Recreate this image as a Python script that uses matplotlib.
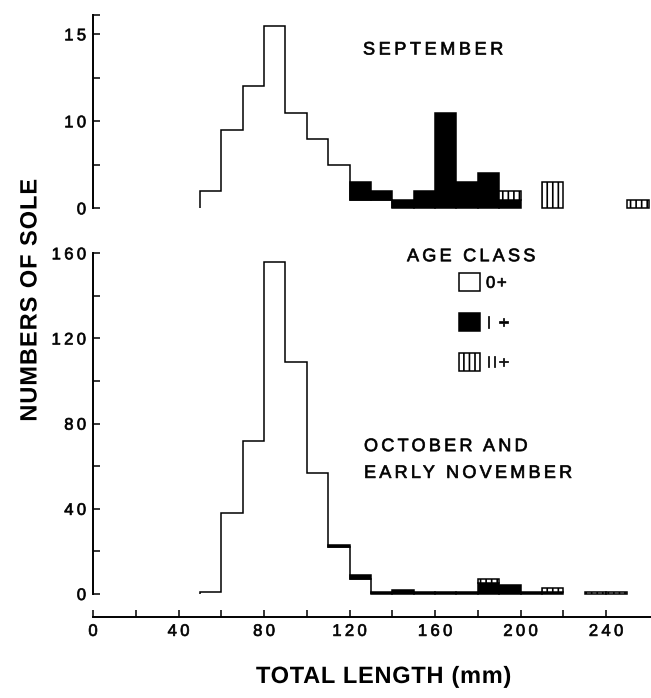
import matplotlib.pyplot as plt
import numpy as np
from matplotlib import patheffects
from matplotlib.path import Path

plt.rcParams['font.family'] = ['Liberation Sans', 'DejaVu Sans']
plt.rcParams['hatch.linewidth'] = 1.2

# 10 mm length classes (left edge of each class), 50 - 250 mm
length_bins = np.arange(50, 260, 10)

# September sample: numbers per length class for each age class
sep_age0 = [1, 4.5, 7, 10.5, 5.5, 4, 2.5, 0.5, 0.5, 0, 0, 0, 0, 0, 0, 0, 0, 0, 0, 0, 0]
sep_age1 = [0, 0, 0, 0, 0, 0, 0, 1, 0.5, 0.5, 1, 5.5, 1.5, 2, 0.5, 0, 0, 0, 0, 0, 0]
sep_age2 = [0, 0, 0, 0, 0, 0, 0, 0, 0, 0, 0, 0, 0, 0, 0.5, 0, 1.5, 0, 0, 0, 0.5]

# October and early November sample
oct_age0 = [1, 38, 72, 156, 109, 57, 22, 7, 0, 0, 0, 0, 0, 0, 0, 0, 0, 0, 0, 0, 0]
oct_age1 = [0, 0, 0, 0, 0, 0, 1, 2, 1, 2, 1, 1, 1, 5, 4, 1, 1, 0, 0, 0, 0]
oct_age2 = [0, 0, 0, 0, 0, 0, 0, 0, 0, 0, 0, 0, 0, 2, 0, 0, 2, 0, 1, 1, 0]

age_labels = ['0+', 'I +', 'II+']

# tick labels as printed on the original figure
sep_yticks = [0, 5, 10]
sep_yticklabels = ['0', '10', '15']
oct_yticks = [0, 40, 80, 120, 160]
x_ticks = [0, 40, 80, 120, 160, 200, 240]

LW = 1.1


class Tracking(patheffects.AbstractPathEffect):
    """Letter-spacing: glyph i is pushed along by i*extra (in em), word gaps
    get one step more. anchor 0 keeps the first glyph in place, 1 the last,
    0.5 the middle. weight > 0 thickens the strokes (points)."""

    def __init__(self, extra=0.2, anchor=0.0, weight=0.0):
        super().__init__()
        self.extra = extra
        self.anchor = anchor
        self.weight = weight

    def draw_path(self, renderer, gc, tpath, affine, rgbFace=None):
        codes = tpath.codes
        if codes is None or len(codes) == 0:
            renderer.draw_path(gc, tpath, affine, rgbFace)
            return
        verts = tpath.vertices.copy()
        starts = sorted(set([0] + list(np.nonzero(codes == Path.MOVETO)[0])))
        starts.append(len(codes))
        ids = np.zeros(len(verts))
        glyph, box = -1, None
        for a, b in zip(starts[:-1], starts[1:]):
            keep = codes[a:b] != Path.CLOSEPOLY
            if not keep.any():
                ids[a:b] = max(glyph, 0)
                continue
            xs = verts[a:b, 0][keep]
            x0, x1 = xs.min(), xs.max()
            # inner contours (holes of O, B, 0 ...) stay with their glyph
            same = box is not None and (
                (x0 >= box[0] - 1 and x1 <= box[1] + 1) or
                (x0 <= box[0] + 1 and x1 >= box[1] - 1))
            if same:
                box = [min(box[0], x0), max(box[1], x1)]
            else:
                if box is not None and x0 - box[1] > 22:
                    glyph += 1  # a space between words
                glyph += 1
                box = [x0, x1]
            ids[a:b] = glyph
        # text paths are laid out at 100 units per em
        verts[:, 0] += (ids - self.anchor * glyph) * self.extra * 100
        gc0 = renderer.new_gc()
        gc0.copy_properties(gc)
        if self.weight > 0:
            gc0.set_linewidth(self.weight)
            gc0.set_foreground(rgbFace)
            gc0.set_joinstyle('round')
        renderer.draw_path(gc0, Path(verts, codes), affine, rgbFace)
        gc0.restore()


def draw_panel(ax, age0, age1, age2):
    age0 = np.asarray(age0, float)
    age1 = np.asarray(age1, float)
    age2 = np.asarray(age2, float)
    edges = np.append(length_bins, length_bins[-1] + 10)

    # 0+ fish as one outlined step histogram
    nz = np.nonzero(age0)[0]
    lo, hi = nz[0], nz[-1] + 1
    h0 = ax.stairs(age0[lo:hi], edges[lo:hi + 1], fill=True,
                   facecolor='white', edgecolor='black', linewidth=LW,
                   clip_on=False)

    m1 = age1 > 0
    b1 = ax.bar(length_bins[m1], age1[m1], width=10, bottom=age0[m1],
                align='edge', color='black', edgecolor='black',
                linewidth=LW, clip_on=False)
    m2 = age2 > 0
    b2 = ax.bar(length_bins[m2], age2[m2], width=10,
                bottom=(age0 + age1)[m2], align='edge', facecolor='white',
                edgecolor='black', hatch='|||', linewidth=LW, clip_on=False)
    return h0, b1, b2


fig = plt.figure(figsize=(6.51, 6.98), dpi=100)
W, H = 651, 698
left = 93 / W

# top panel: September
ax1 = fig.add_axes([left, 1 - 208.3 / H, 1 - left, (208.3 - 15) / H])
draw_panel(ax1, sep_age0, sep_age1, sep_age2)
sep_top = (208.3 - 15) / 17.4
ax1.set_xlim(0, 261)
ax1.set_ylim(0, sep_top)
ax1.set_yticks(sep_yticks)
ax1.set_yticklabels(sep_yticklabels)
ax1.set_yticks([2.5, 7.5, sep_top], minor=True)
ax1.set_xticks([])
for s in ['top', 'right', 'bottom']:
    ax1.spines[s].set_visible(False)

# bottom panel: October and early November
ax2 = fig.add_axes([left, 1 - 594 / H, 1 - left, (594 - 253.3) / H])
h0, b1, b2 = draw_panel(ax2, oct_age0, oct_age1, oct_age2)
ax2.set_xlim(0, 261)
ax2.set_ylim(0, 160)
ax2.set_yticks(oct_yticks)
ax2.set_yticks([20, 60, 100, 140], minor=True)
ax2.set_xticks(x_ticks)
ax2.set_xticks([20, 60, 100, 140, 180, 220], minor=True)
for s in ['top', 'right']:
    ax2.spines[s].set_visible(False)
ax2.spines['bottom'].set_position(('outward', 16.5))

for ax in (ax1, ax2):
    ax.patch.set_visible(False)
    ax.spines['left'].set_linewidth(1.4)
    ax.spines['bottom'].set_linewidth(1.4)
    ax.tick_params(which='both', direction='in', length=5, width=1.1,
                   labelsize=12, pad=5)
    for t in ax.get_yticklabels():
        t.set_path_effects([Tracking(0.2, anchor=1, weight=0.5)])
for t in ax2.get_xticklabels():
    t.set_path_effects([Tracking(0.2, anchor=0.5, weight=0.5)])

# text
spaced = [Tracking(0.2, weight=0.5)]
fig.text(363 / W, 1 - 50 / H, 'SEPTEMBER', fontsize=13,
         ha='left', va='center', path_effects=spaced)
fig.text(364 / W, 1 - 460 / H, 'OCTOBER AND\nEARLY NOVEMBER', fontsize=13,
         ha='left', va='center', linespacing=1.75,
         path_effects=[Tracking(0.18, weight=0.5)])
fig.text(407 / W, 1 - 256.7 / H, 'AGE CLASS', fontsize=13,
         ha='left', va='center', path_effects=[Tracking(0.18, weight=0.5)])

leg = ax2.legend([h0, b1.patches[0], b2.patches[0]], age_labels,
                 loc='upper left', bbox_to_anchor=(459 / W, 1 - 273.3 / H),
                 bbox_transform=fig.transFigure, frameon=False, fontsize=12,
                 borderpad=0, borderaxespad=0, handlelength=1.26,
                 handleheight=1.26, labelspacing=1.32, handletextpad=0.36)
for t in leg.get_texts():
    t.set_path_effects([Tracking(0.1, weight=0.5)])

fig.text(30 / W, 1 - 300 / H, 'NUMBERS OF SOLE', fontsize=17,
         fontweight='bold', rotation=90, ha='center', va='center',
         path_effects=[Tracking(0.04, anchor=0.5)])
fig.text(384 / W, 1 - 676.5 / H, 'TOTAL LENGTH (mm)', fontsize=17,
         fontweight='bold', ha='center', va='center',
         path_effects=[Tracking(0.03, anchor=0.5)])

fig.savefig('out.png', dpi=100)
